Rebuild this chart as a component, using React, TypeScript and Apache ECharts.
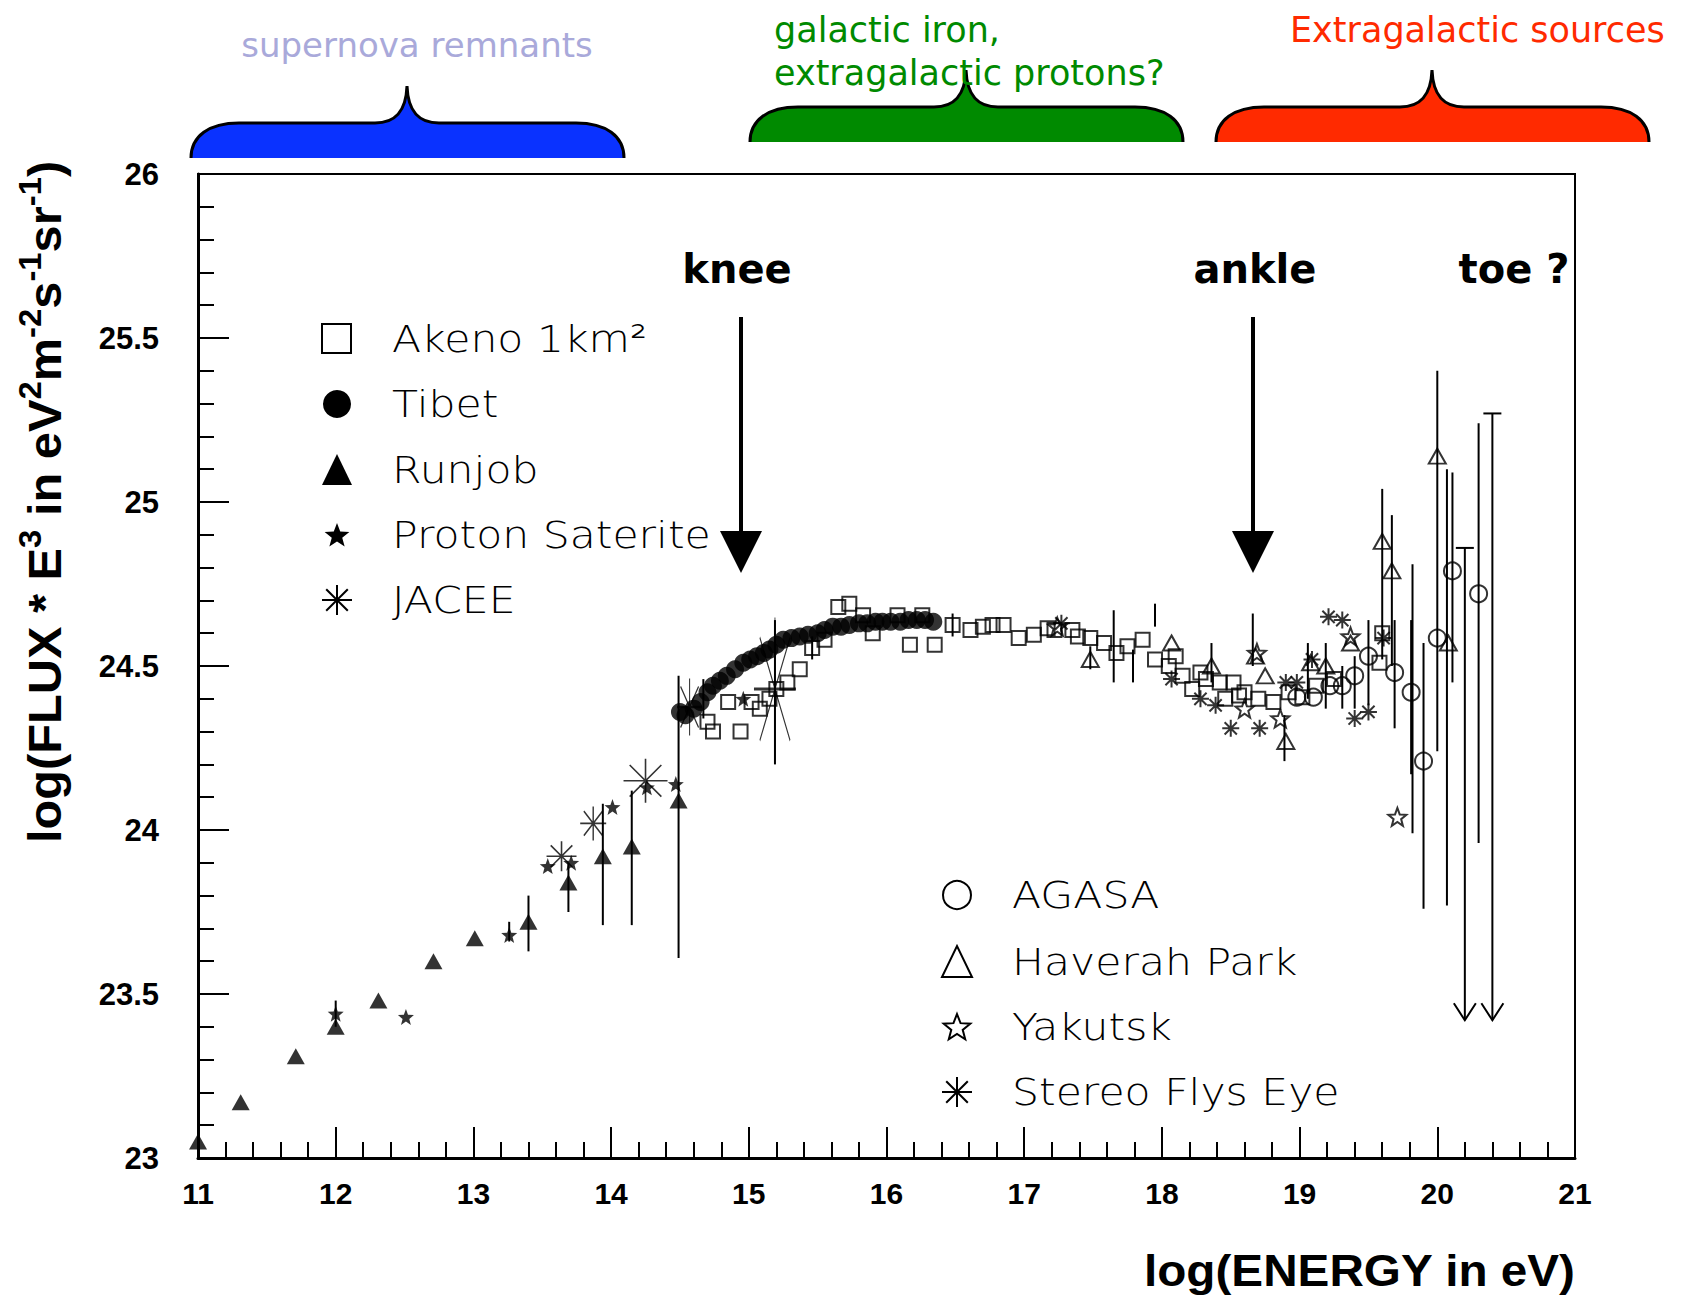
import React, { useEffect, useRef } from "react";
import * as echarts from "echarts";

const W = 1686;
const H = 1303;

// ---------- axes ----------
const xMin = 11, xMax = 21, xStep = 1;
const yMin = 23, yMax = 26, yStep = 0.5;

// ---------- data (log10 E [eV], log10 flux*E^3) ----------
const runjobE = [11.0, 11.31, 11.71, 12.0, 12.31, 12.71, 13.01, 13.40, 13.69, 13.94, 14.15, 14.49];
const runjobF = [23.05, 23.17, 23.31, 23.40, 23.48, 23.60, 23.67, 23.72, 23.84, 23.92, 23.95, 24.09];

const protonE = [12.0, 12.51, 13.26, 13.54, 13.71, 14.01, 14.26, 14.47, 14.96];
const protonF = [23.44, 23.43, 23.68, 23.89, 23.90, 24.07, 24.13, 24.14, 24.40];

const jaceeE = [13.64, 13.87, 14.25, 14.57, 15.19];
const jaceeF = [23.92, 24.02, 24.15, 24.375, 24.43];

const tibetE = [14.50, 14.54, 14.60, 14.65, 14.70, 14.74, 14.79, 14.84, 14.90, 14.96, 15.01, 15.06, 15.11, 15.15, 15.20, 15.25, 15.31, 15.37, 15.43, 15.50, 15.55, 15.61, 15.67, 15.73, 15.80, 15.86, 15.92, 15.97, 16.03, 16.10, 16.16, 16.22, 16.28, 16.34];
const tibetF = [24.36, 24.35, 24.37, 24.39, 24.42, 24.44, 24.455, 24.47, 24.49, 24.51, 24.52, 24.53, 24.54, 24.55, 24.565, 24.58, 24.585, 24.59, 24.595, 24.60, 24.61, 24.62, 24.62, 24.625, 24.63, 24.63, 24.635, 24.635, 24.635, 24.635, 24.64, 24.64, 24.64, 24.635];

const akenoE = [14.70, 14.74, 14.85, 14.94, 15.02, 15.08, 15.15, 15.20, 15.28, 15.37, 15.46, 15.55, 15.65, 15.73, 15.83, 15.90, 16.08, 16.17, 16.26, 16.35, 16.48, 16.61, 16.70, 16.77, 16.85, 16.96, 17.07, 17.17, 17.22, 17.35, 17.39, 17.48, 17.58, 17.67, 17.75, 17.86, 17.95, 18.05, 18.10, 18.15, 18.22, 18.28, 18.32, 18.42, 18.46, 18.52, 18.56, 18.60, 18.70, 18.81, 18.92, 19.02, 19.12, 19.25, 19.58, 19.60];
const akenoF = [24.33, 24.30, 24.39, 24.30, 24.39, 24.37, 24.40, 24.43, 24.45, 24.49, 24.555, 24.58, 24.68, 24.69, 24.655, 24.60, 24.655, 24.565, 24.655, 24.565, 24.625, 24.61, 24.62, 24.625, 24.625, 24.585, 24.595, 24.615, 24.61, 24.61, 24.59, 24.585, 24.57, 24.54, 24.56, 24.58, 24.52, 24.50, 24.53, 24.47, 24.43, 24.48, 24.46, 24.45, 24.40, 24.45, 24.41, 24.42, 24.40, 24.39, 24.42, 24.405, 24.44, 24.46, 24.51, 24.60];

const agasaE = [18.98, 19.10, 19.22, 19.31, 19.40, 19.50, 19.69, 19.81, 19.90, 20.00, 20.11, 20.30];
const agasaF = [24.405, 24.405, 24.44, 24.44, 24.47, 24.53, 24.48, 24.42, 24.21, 24.585, 24.79, 24.72];

const haverahE = [17.48, 18.07, 18.36, 18.68, 18.75, 18.90, 19.08, 19.19, 19.37, 19.60, 19.67, 20.00, 20.08];
const haverahF = [24.52, 24.57, 24.50, 24.53, 24.47, 24.27, 24.51, 24.50, 24.57, 24.88, 24.79, 25.14, 24.57];

const yakutskE = [17.24, 18.60, 18.69, 18.86, 19.37, 19.71];
const yakutskF = [24.62, 24.37, 24.54, 24.34, 24.59, 24.04];

const flysEyeE = [17.27, 18.07, 18.28, 18.39, 18.50, 18.71, 18.90, 18.98, 19.09, 19.21, 19.31, 19.40, 19.50, 19.61];
const flysEyeF = [24.63, 24.46, 24.40, 24.38, 24.31, 24.31, 24.45, 24.45, 24.52, 24.65, 24.64, 24.34, 24.36, 24.585];

// vertical error bars
const errE = [12.0, 13.26, 13.40, 13.69, 13.94, 14.15, 14.49, 14.67, 15.19, 15.46, 16.48, 17.48, 17.65, 17.79, 17.95, 18.36, 18.66, 18.89, 19.06, 19.19, 19.31, 19.40, 19.50, 19.60, 19.67, 19.69, 19.81, 19.82, 19.90, 20.00, 20.07, 20.11, 20.30];
const errLo = [23.40, 23.66, 23.63, 23.75, 23.71, 23.71, 23.61, 24.34, 24.20, 24.52, 24.59, 24.49, 24.45, 24.45, 24.62, 24.45, 24.50, 24.21, 24.40, 24.37, 24.37, 24.37, 24.38, 24.52, 24.50, 24.31, 24.17, 23.99, 23.76, 24.24, 23.77, 24.45, 23.96];
const errHi = [23.48, 23.72, 23.80, 23.90, 24.08, 24.12, 24.47, 24.46, 24.64, 24.59, 24.66, 24.56, 24.67, 24.55, 24.69, 24.57, 24.66, 24.35, 24.57, 24.57, 24.50, 24.53, 24.64, 25.04, 24.96, 24.64, 24.64, 24.81, 24.57, 25.40, 25.10, 25.09, 25.24];

// upper limits (capped bar with downward arrow)
const limitE = [20.20, 20.40];
const limitTop = [24.86, 25.27];
const limitBottom = [23.42, 23.42];

// ---------- styles ----------
const jaceeSymbolSize = [[30, 30], [26, 34], [44, 44], [25, 57], [42, 143]];

function starPts(cx: number, cy: number, R: number, r: number) {
  const pts: number[][] = [];
  for (let i = 0; i < 10; i++) {
    const rad = i % 2 === 0 ? R : r;
    const a = -Math.PI / 2 + (i * Math.PI) / 5;
    pts.push([cx + rad * Math.cos(a), cy + rad * Math.sin(a)]);
  }
  return pts;
}
const STAR_SYMBOL =
  "path://" +
  starPts(50, 50, 50, 21)
    .map((p, i) => (i ? "L" : "M") + p[0].toFixed(2) + " " + p[1].toFixed(2))
    .join("") +
  "Z";
const ASTER_SYMBOL = "path://M50 0L50 100M0 50L100 50M14 14L86 86M14 86L86 14";

const BRACE_D = "M0 72 C0 50 18 37 48 37 L184 37 C204 37 215 26 216 0 C217 26 228 37 248 37 L385 37 C415 37 433 50 433 72";
echarts.graphic.registerShape("braceFill", echarts.graphic.extendPath(BRACE_D + " Z", {}));
echarts.graphic.registerShape("braceLine", echarts.graphic.extendPath(BRACE_D, {}));

const zip = (a: number[], b: number[]) => a.map((v, i) => [v, b[i]]);

const OPEN = { color: "rgba(0,0,0,0)", borderColor: "#000", borderWidth: 2 };
const FILLED = { color: "#000", borderWidth: 0 };

function asteriskLines(cx: number, cy: number, h: number) {
  const d = h * 0.72;
  const st = { stroke: "#000", lineWidth: 2 };
  return [
    { type: "line", shape: { x1: cx, y1: cy - h, x2: cx, y2: cy + h }, style: st },
    { type: "line", shape: { x1: cx - h, y1: cy, x2: cx + h, y2: cy }, style: st },
    { type: "line", shape: { x1: cx - d, y1: cy - d, x2: cx + d, y2: cy + d }, style: st },
    { type: "line", shape: { x1: cx - d, y1: cy + d, x2: cx + d, y2: cy - d }, style: st },
  ];
}

function arrow(x: number) {
  return [
    { type: "rect", shape: { x: x - 2, y: 317, width: 4, height: 220 }, style: { fill: "#000" } },
    { type: "polygon", shape: { points: [[x - 21, 531], [x + 21, 531], [x, 573]] }, style: { fill: "#000" } },
  ];
}

const LEG_FONT = { fontFamily: "DejaVu Sans", fontSize: 38, fontWeight: 300, fill: "#000" };
function legText(x: number, y: number, text: string) {
  return { type: "text", x, y, scaleX: 1.12, style: { ...LEG_FONT, text, align: "left", verticalAlign: "middle" } };
}

const TOP_FONT = { fontFamily: "DejaVu Sans", fontSize: 35 };

export default function App() {
  const ref = useRef<HTMLDivElement>(null);
  useEffect(() => {
    const chart = echarts.init(ref.current!, null, { renderer: "svg" });

    const errData = [
      ...errE.map((e, i) => [e, errLo[i], errHi[i], 0]),
      ...limitE.map((e, i) => [e, limitBottom[i], limitTop[i], 1]),
    ];

    const graphic: any[] = [
      // braces
      { type: "braceFill", x: 191, y: 86, style: { fill: "#0A32FF" } },
      { type: "braceLine", x: 191, y: 86, style: { fill: "none", stroke: "#000", lineWidth: 3 } },
      { type: "braceFill", x: 750, y: 70, style: { fill: "#008A00" } },
      { type: "braceLine", x: 750, y: 70, style: { fill: "none", stroke: "#000", lineWidth: 3 } },
      { type: "braceFill", x: 1216, y: 70, style: { fill: "#FF2A00" } },
      { type: "braceLine", x: 1216, y: 70, style: { fill: "none", stroke: "#000", lineWidth: 3 } },
      // top labels
      { type: "text", x: 417, y: 45, style: { ...TOP_FONT, fontSize: 34, text: "supernova remnants", fill: "#A9A9DA", align: "center", verticalAlign: "middle" } },
      { type: "text", x: 774, y: 30, style: { ...TOP_FONT, text: "galactic iron,", fill: "#008A00", align: "left", verticalAlign: "middle" } },
      { type: "text", x: 774, y: 73, style: { ...TOP_FONT, text: "extragalactic protons?", fill: "#008A00", align: "left", verticalAlign: "middle" } },
      { type: "text", x: 1290, y: 30, style: { ...TOP_FONT, text: "Extragalactic sources", fill: "#FF2A00", align: "left", verticalAlign: "middle" } },
      // annotations
      { type: "text", x: 737, y: 269, style: { text: "knee", fontFamily: "DejaVu Sans", fontWeight: "bold", fontSize: 40, fill: "#000", align: "center", verticalAlign: "middle" } },
      { type: "text", x: 1255, y: 269, style: { text: "ankle", fontFamily: "DejaVu Sans", fontWeight: "bold", fontSize: 40, fill: "#000", align: "center", verticalAlign: "middle" } },
      { type: "text", x: 1514, y: 269, style: { text: "toe ?", fontFamily: "DejaVu Sans", fontWeight: "bold", fontSize: 40, fill: "#000", align: "center", verticalAlign: "middle" } },
      ...arrow(741),
      ...arrow(1253),
      // axis titles
      {
        type: "text",
        x: 45,
        y: 502,
        rotation: Math.PI / 2,
        scaleX: 1.06,
        style: {
          text: "{a|log(FLUX * E}{s|3}{a| in eV}{s|2}{a|m}{s|-2}{a|s}{s|-1}{a|sr}{s|-1}{a|)}",
          align: "center",
          verticalAlign: "middle",
          fill: "#000",
          rich: {
            a: { fontFamily: "Liberation Sans", fontWeight: "bold", fontSize: 46, lineHeight: 60, verticalAlign: "middle", fill: "#000" },
            s: { fontFamily: "Liberation Sans", fontWeight: "bold", fontSize: 31, lineHeight: 31, verticalAlign: "top", fill: "#000" },
          },
        },
      },
      {
        type: "text",
        x: 1575,
        y: 1270,
        scaleX: 1.06,
        style: { text: "log(ENERGY in eV)", fontFamily: "Liberation Sans", fontWeight: "bold", fontSize: 45, fill: "#000", align: "right", verticalAlign: "middle" },
      },
      // legend 1
      { type: "rect", shape: { x: 322, y: 324, width: 29, height: 29 }, style: { fill: "none", stroke: "#000", lineWidth: 2 } },
      legText(392, 339, "Akeno 1km²"),
      { type: "circle", shape: { cx: 337, cy: 404, r: 14 }, style: { fill: "#000" } },
      legText(392, 404, "Tibet"),
      { type: "polygon", shape: { points: [[322, 485], [352, 485], [337, 454]] }, style: { fill: "#000" } },
      legText(392, 470, "Runjob"),
      { type: "polygon", shape: { points: starPts(337, 536, 13, 5.5) }, style: { fill: "#000" } },
      legText(392, 535, "Proton Saterite"),
      ...asteriskLines(337, 600, 15),
      legText(392, 600, "JACEE"),
      // legend 2
      { type: "circle", shape: { cx: 957, cy: 895, r: 14 }, style: { fill: "none", stroke: "#000", lineWidth: 2 } },
      legText(1012, 895, "AGASA"),
      { type: "polygon", shape: { points: [[942, 977], [972, 977], [957, 946]] }, style: { fill: "none", stroke: "#000", lineWidth: 2 } },
      legText(1012, 962, "Haverah Park"),
      { type: "polygon", shape: { points: starPts(957, 1028, 14, 6) }, style: { fill: "none", stroke: "#000", lineWidth: 2 } },
      legText(1012, 1027, "Yakutsk"),
      ...asteriskLines(957, 1092, 15),
      legText(1012, 1092, "Stereo Flys Eye"),
    ];

    const option: any = {
      animation: false,
      backgroundColor: "#fff",
      grid: { left: 198, top: 174, width: 1377, height: 984, show: true, borderColor: "#000", borderWidth: 2, backgroundColor: "rgba(0,0,0,0)" },
      xAxis: {
        type: "value",
        min: xMin,
        max: xMax,
        interval: xStep,
        axisLine: { show: true, onZero: false, lineStyle: { color: "#000", width: 3 } },
        axisTick: { show: true, inside: true, length: 31, lineStyle: { color: "#000", width: 2 } },
        minorTick: { show: true, splitNumber: 5, length: 16, lineStyle: { color: "#000", width: 2 } },
        splitLine: { show: false },
        axisLabel: { color: "#000", fontFamily: "Liberation Sans", fontWeight: "bold", fontSize: 30, margin: 20 },
      },
      yAxis: {
        type: "value",
        min: yMin,
        max: yMax,
        interval: yStep,
        axisLine: { show: true, onZero: false, lineStyle: { color: "#000", width: 3 } },
        axisTick: { show: true, inside: true, length: 31, lineStyle: { color: "#000", width: 2 } },
        minorTick: { show: true, splitNumber: 5, length: 16, lineStyle: { color: "#000", width: 2 } },
        splitLine: { show: false },
        axisLabel: { color: "#000", fontFamily: "Liberation Sans", fontWeight: "bold", fontSize: 31, margin: 39 },
      },
      graphic,
      series: [
        {
          type: "custom",
          name: "error bars",
          z: 1,
          silent: true,
          encode: { x: 0, y: [1, 2] },
          data: errData,
          renderItem: (params: any, api: any) => {
            const x = api.value(0);
            const lo = api.value(1);
            const hi = api.value(2);
            const lim = api.value(3);
            const a = api.coord([x, hi]);
            const b = api.coord([x, lo]);
            const st = { stroke: "#000", lineWidth: 2, fill: "none" };
            const children: any[] = [{ type: "line", shape: { x1: a[0], y1: a[1], x2: b[0], y2: b[1] }, style: st }];
            if (lim === 1) {
              children.push({ type: "line", shape: { x1: a[0] - 9, y1: a[1], x2: a[0] + 9, y2: a[1] }, style: st });
              children.push({ type: "polyline", shape: { points: [[b[0] - 11, b[1] - 17], [b[0], b[1]], [b[0] + 11, b[1] - 17]] }, style: st });
            }
            return { type: "group", children };
          },
        },
        { type: "scatter", name: "Runjob", z: 3, silent: true, symbol: "triangle", symbolSize: [18, 16], itemStyle: FILLED, data: zip(runjobE, runjobF) },
        { type: "scatter", name: "Proton Saterite", z: 3, silent: true, symbol: STAR_SYMBOL, symbolSize: 16, itemStyle: FILLED, data: zip(protonE, protonF) },
        {
          type: "scatter",
          name: "JACEE",
          z: 3,
          silent: true,
          symbol: ASTER_SYMBOL,
          itemStyle: { color: "rgba(0,0,0,0)", borderColor: "#000", borderWidth: 1.6 },
          data: jaceeE.map((e, i) => ({ value: [e, jaceeF[i]], symbolSize: jaceeSymbolSize[i] })),
        },
        { type: "scatter", name: "Tibet", z: 3, silent: true, symbol: "circle", symbolSize: 18, itemStyle: FILLED, data: zip(tibetE, tibetF) },
        { type: "scatter", name: "Akeno 1km²", z: 4, silent: true, symbol: "rect", symbolSize: 14, itemStyle: OPEN, data: zip(akenoE, akenoF) },
        { type: "scatter", name: "AGASA", z: 4, silent: true, symbol: "circle", symbolSize: 17, itemStyle: OPEN, data: zip(agasaE, agasaF) },
        { type: "scatter", name: "Haverah Park", z: 4, silent: true, symbol: "triangle", symbolSize: [17, 15], itemStyle: OPEN, data: zip(haverahE, haverahF) },
        { type: "scatter", name: "Yakutsk", z: 4, silent: true, symbol: STAR_SYMBOL, symbolSize: 18, itemStyle: OPEN, data: zip(yakutskE, yakutskF) },
        { type: "scatter", name: "Stereo Flys Eye", z: 4, silent: true, symbol: ASTER_SYMBOL, symbolSize: 17, itemStyle: OPEN, data: zip(flysEyeE, flysEyeF) },
      ],
    };

    chart.setOption(option);
    return () => chart.dispose();
  }, []);

  return (
    <div
      ref={ref}
      style={{ position: "absolute", left: 0, top: 0, width: W, height: H, background: "#fff" }}
    />
  );
}
